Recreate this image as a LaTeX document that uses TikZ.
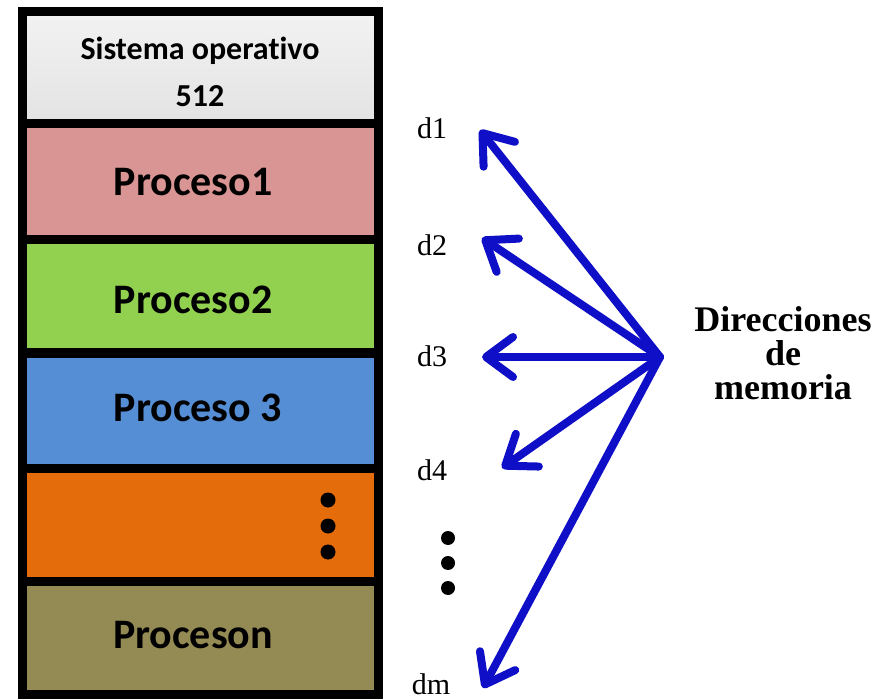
\documentclass[tikz,border=0pt]{standalone}
\usepackage{fontspec}
\newfontfamily\boxfont[Ligatures={NoCommon,NoRequired,NoContextual},RawFeature={-liga;-dlig;-clig}]{Carlito}
\newfontfamily\serif{Liberation Serif}
\usetikzlibrary{arrows.meta}
\definecolor{pinkp}{RGB}{217,149,148}
\definecolor{greenp}{RGB}{146,208,80}
\definecolor{bluep}{RGB}{85,142,213}
\definecolor{orangep}{RGB}{228,108,10}
\definecolor{olivep}{RGB}{148,138,84}
\definecolor{arrblue}{RGB}{15,15,200}
\begin{document}
\begin{tikzpicture}[x=1pt,y=-1pt,
  band/.style={draw=black,line width=9pt,rectangle,minimum width=356pt,inner sep=0pt,outer sep=0pt},
  ptext/.style={font=\boxfont\bfseries\fontsize{42}{45}\selectfont,inner sep=0pt},
  dlabel/.style={font=\serif\fontsize{30}{32}\selectfont,inner sep=0pt},
  bigdot/.style={circle,fill=black,inner sep=0pt,minimum size=15pt},
  memarrow/.style={draw=arrblue,line width=8pt,line cap=round,
     -{Straight Barb[length=27pt,width=40pt,round]}}
]
\useasboundingbox (0,0) rectangle (891,700);
\fill[white] (0,0) rectangle (891,700);
% bands
\node[band,top color=gray!10,bottom color=gray!22,minimum height=112pt] (os) at (200,68) {};
\node[band,fill=pinkp,minimum height=116pt] (p1) at (200,182) {};
\node[band,fill=greenp,minimum height=113pt] (p2) at (200,296.5) {};
\node[band,fill=bluep,minimum height=115pt] (p3) at (200,410.5) {};
\node[band,fill=orangep,minimum height=113pt] (p4) at (200,524.5) {};
\node[band,fill=olivep,minimum height=113pt] (pn) at (200,637.5) {};
% band texts
\node[inner sep=0pt,align=center,font=\boxfont\bfseries\fontsize{32}{47}\selectfont] (ost) at (200,72) {Sistema operativo\\512};
\node[ptext] (p1t) at (193,182) {Proceso1};
\node[ptext] (p2t) at (193,300) {Proceso2};
\node[ptext] (p3t) at (198,408) {Proceso 3};
\node[ptext] (pnt) at (193,635) {Proceson};
% dots in orange band
\node[bigdot] (od1) at (328,500) {};
\node[bigdot] (od2) at (328,526) {};
\node[bigdot] (od3) at (328,552) {};
% address labels
\node[dlabel] (d1) at (432,128) {d1};
\node[dlabel] (d2) at (432,245) {d2};
\node[dlabel] (d3) at (432,356) {d3};
\node[dlabel] (d4) at (432,470) {d4};
\node[dlabel] (dm) at (431,684) {dm};
\node[bigdot,minimum size=14pt] (rd1) at (448,538) {};
\node[bigdot,minimum size=14pt] (rd2) at (448,563) {};
\node[bigdot,minimum size=14pt] (rd3) at (448,588) {};
% title
\node[font=\serif\bfseries\fontsize{36}{34}\selectfont,align=center,inner sep=0pt] (dir) at (783,353)
  {Direcciones\\de\\memoria};
% arrows
\coordinate (o) at (660,357);
\coordinate (t1) at (480,130);
\coordinate (t2) at (482,238);
\coordinate (t3) at (482,357);
\coordinate (t4) at (502,468);
\coordinate (t5) at (483,688);
\foreach \t in {t1,t2,t3,t4,t5} \draw[memarrow] (o) -- (\t);
\end{tikzpicture}
\end{document}
